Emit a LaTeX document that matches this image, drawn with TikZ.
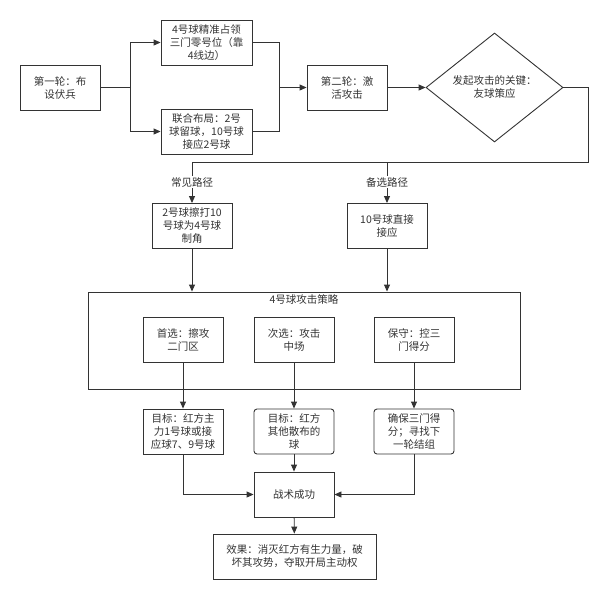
\documentclass[tikz,border=0pt]{standalone}
\usepackage{fontspec}
\setmainfont{Noto Sans CJK SC}
\usetikzlibrary{arrows.meta,shapes.geometric}
\definecolor{ink}{HTML}{333333}
\tikzstyle{block}=[draw=ink,text=ink,rectangle,line width=0.9pt,minimum width=80pt,minimum height=45pt,inner sep=0pt,align=center,font=\fontsize{10.5}{13}\selectfont]
\tikzstyle{soft block}=[block,rounded corners=3pt]
\tikzstyle{decision}=[draw=ink,text=ink,diamond,line width=0.9pt,minimum width=137pt,minimum height=109pt,inner sep=0pt,align=center,font=\fontsize{10.5}{13}\selectfont]
\tikzstyle{pathlabel}=[text=ink,inner sep=1pt,font=\fontsize{10.5}{13}\selectfont]
\tikzstyle{edge}=[draw=ink,line width=0.9pt,-{Triangle[length=7pt,width=6pt]}]
\tikzstyle{line}=[draw=ink,line width=0.9pt]

\begin{document}
\begin{tikzpicture}[x=1pt,y=-1pt]
	\useasboundingbox (0,0) rectangle (609,600);
	% first row: set-up and second round
	\node[block] (round1) at (60,87.5) {第一轮：布\\设伏兵};
	\node[block,minimum width=91pt] (post4) at (206.5,42.5) {4号球精准占领\\三门零号位（靠\\4线边）};
	\node[block,minimum width=91pt] (joint) at (206.5,131.5) {联合布局：2号\\球留球，10号球\\接应2号球};
	\node[block] (round2) at (347,87.5) {第二轮：激\\活攻击};
	\node[decision] (key) at (494.5,87.5) {发起攻击的关键：\\友球策应};

	\coordinate (split) at (130,87.5);
	\coordinate (merge) at (279.5,87.5);
	\path[line] (round1) -- (split);
	\foreach \dest in {post4, joint}
		\path[edge] (split) |- (\dest.west);
	\foreach \source in {post4, joint}
		\path[line] (\source.east) -| (merge);
	\path[edge] (merge) -- (round2);
	\path[edge] (round2) -- (key);

	% two ways down
	\node[pathlabel] (common) at (192,182) {常见路径};
	\node[pathlabel] (spare) at (387,182) {备选路径};
	\node[block] (cut) at (192,226) {2号球擦打10\\号球为4号球\\制角};
	\node[block] (direct) at (387,226) {10号球直接\\接应};
	\coordinate (turn) at (588,87.5);
	\coordinate (back) at (588,162);
	\path[line] (key.east) -- (turn) -- (back) -- (common.north |- back) -- (common.north);
	\path[line] (spare.north |- back) -- (spare.north);
	\foreach \source/\dest in {common/cut, spare/direct}
		\path[edge] (\source.south) -- (\dest.north);

	% attack strategy of ball 4
	\node[draw=ink,line width=0.9pt,minimum width=432pt,minimum height=97pt,inner sep=0pt] (plan) at (304,340.5) {};
	\node[pathlabel] (plantitle) at (304,299.5) {4号球攻击策略};
	\foreach \source in {cut, direct}
		\path[edge] (\source.south) -- (\source.south |- plan.north);
	\node[block] (first) at (183,339.5) {首选：擦攻\\二门区};
	\node[block] (second) at (294,339.5) {次选：攻击\\中场};
	\node[block] (safe) at (414,339.5) {保守：控三\\门得分};

	% targets and outcome
	\node[block] (aim1) at (183,431.5) {目标：红方主\\力1号球或接\\应球7、9号球};
	\node[soft block] (aim2) at (294,431.5) {目标：红方\\其他散布的\\球};
	\node[soft block] (aim3) at (414,431.5) {确保三门得\\分；寻找下\\一轮结组};
	\node[block] (win) at (294,494.5) {战术成功};
	\node[block,minimum width=163pt] (effect) at (294.5,556.5) {效果：消灭红方有生力量，破\\坏其攻势，夺取开局主动权};

	\foreach \source/\dest in {first/aim1, second/aim2, safe/aim3, aim2/win, win/effect}
		\path[edge] (\source) -- (\dest);
	\path[edge] (aim1.south) |- (win.west);
	\path[edge] (aim3.south) |- (win.east);
\end{tikzpicture}
\end{document}
